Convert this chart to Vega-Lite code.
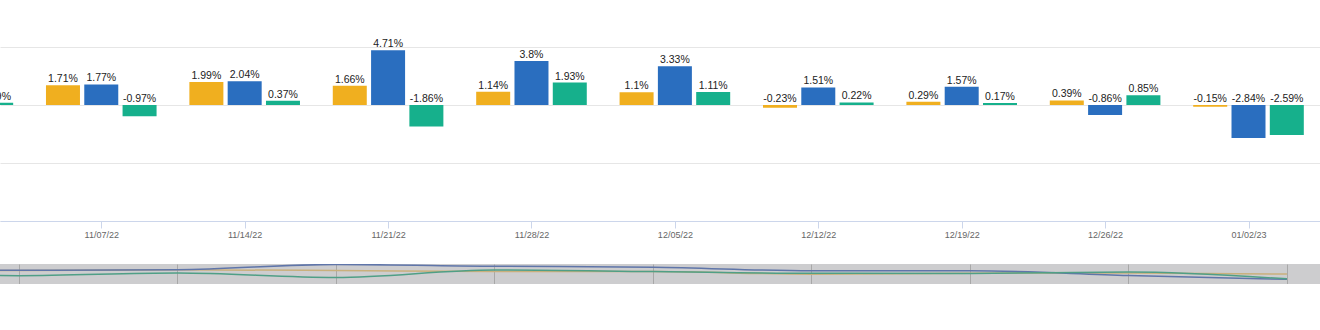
{
  "$schema": "https://vega.github.io/schema/vega-lite/v6.json",
  "padding": 0,
  "background": "white",
  "config": {"view": {"stroke": null}, "font": "Liberation Sans"},
  "datasets": {
    "weekly": [
      {"week": "2022-10-31", "series": "s1", "value": 1.52},
      {"week": "2022-10-31", "series": "s2", "value": 1.64},
      {"week": "2022-10-31", "series": "s3", "value": 0.19},
      {"week": "2022-11-07", "series": "s1", "value": 1.71},
      {"week": "2022-11-07", "series": "s2", "value": 1.77},
      {"week": "2022-11-07", "series": "s3", "value": -0.97},
      {"week": "2022-11-14", "series": "s1", "value": 1.99},
      {"week": "2022-11-14", "series": "s2", "value": 2.04},
      {"week": "2022-11-14", "series": "s3", "value": 0.37},
      {"week": "2022-11-21", "series": "s1", "value": 1.66},
      {"week": "2022-11-21", "series": "s2", "value": 4.71},
      {"week": "2022-11-21", "series": "s3", "value": -1.86},
      {"week": "2022-11-28", "series": "s1", "value": 1.14},
      {"week": "2022-11-28", "series": "s2", "value": 3.8},
      {"week": "2022-11-28", "series": "s3", "value": 1.93},
      {"week": "2022-12-05", "series": "s1", "value": 1.1},
      {"week": "2022-12-05", "series": "s2", "value": 3.33},
      {"week": "2022-12-05", "series": "s3", "value": 1.11},
      {"week": "2022-12-12", "series": "s1", "value": -0.23},
      {"week": "2022-12-12", "series": "s2", "value": 1.51},
      {"week": "2022-12-12", "series": "s3", "value": 0.22},
      {"week": "2022-12-19", "series": "s1", "value": 0.29},
      {"week": "2022-12-19", "series": "s2", "value": 1.57},
      {"week": "2022-12-19", "series": "s3", "value": 0.17},
      {"week": "2022-12-26", "series": "s1", "value": 0.39},
      {"week": "2022-12-26", "series": "s2", "value": -0.86},
      {"week": "2022-12-26", "series": "s3", "value": 0.85},
      {"week": "2023-01-02", "series": "s1", "value": -0.15},
      {"week": "2023-01-02", "series": "s2", "value": -2.84},
      {"week": "2023-01-02", "series": "s3", "value": -2.59}
    ]
  },
  "data": {"name": "weekly"},
  "bounds": "flush",
  "spacing": 43,
  "vconcat": [
    {
      "width": 1320,
      "height": 221,
      "transform": [{"calculate": "datum.value + '%'", "as": "label"}],
      "encoding": {
        "x": {
          "field": "week",
          "type": "temporal",
          "scale": {
            "type": "utc",
            "domain": [
              {"year": 2022, "month": 11, "date": 2, "hours": 7, "minutes": 13, "utc": true},
              {"year": 2023, "month": 1, "date": 5, "hours": 5, "minutes": 54, "utc": true}
            ]
          },
          "axis": {
            "title": null,
            "values": [
              {"year": 2022, "month": 11, "date": 7, "utc": true},
              {"year": 2022, "month": 11, "date": 14, "utc": true},
              {"year": 2022, "month": 11, "date": 21, "utc": true},
              {"year": 2022, "month": 11, "date": 28, "utc": true},
              {"year": 2022, "month": 12, "date": 5, "utc": true},
              {"year": 2022, "month": 12, "date": 12, "utc": true},
              {"year": 2022, "month": 12, "date": 19, "utc": true},
              {"year": 2022, "month": 12, "date": 26, "utc": true},
              {"year": 2023, "month": 1, "date": 2, "utc": true}
            ],
            "labelExpr": "utcFormat(datum.value, '%m/%d/%y')",
            "grid": false,
            "labelColor": "#666666",
            "labelFontSize": 9,
            "labelFont": "Liberation Sans",
            "labelPadding": 2,
            "domainColor": "#ccd6eb",
            "tickColor": "#ccd6eb",
            "tickSize": 7
          }
        },
        "y": {
          "field": "value",
          "type": "quantitative",
          "scale": {"domain": [-10, 9.05], "nice": false, "zero": false},
          "axis": {
            "title": null,
            "labels": false,
            "ticks": false,
            "domain": false,
            "grid": true,
            "gridColor": "#e6e6e6",
            "values": [-10, -5, 0, 5]
          }
        }
      },
      "layer": [
        {"transform": [{"filter": "datum.series == 's1'"}], "mark": {"type": "bar", "width": 34, "xOffset": -38.3, "color": "#F0AF1F", "clip": true}},
        {"transform": [{"filter": "datum.series == 's2'"}], "mark": {"type": "bar", "width": 34, "xOffset": 0, "color": "#2A6EBF", "clip": true}},
        {"transform": [{"filter": "datum.series == 's3'"}], "mark": {"type": "bar", "width": 34, "xOffset": 38.3, "color": "#16B08C", "clip": true}},
        {"transform": [{"filter": "datum.series == 's1' && datum.value >= 0"}], "mark": {"type": "text", "xOffset": -38.3, "dy": -3, "baseline": "alphabetic", "fontSize": 10.5, "color": "#222222", "clip": true}, "encoding": {"text": {"field": "label"}}},
        {"transform": [{"filter": "datum.series == 's2' && datum.value >= 0"}], "mark": {"type": "text", "xOffset": 0, "dy": -3, "baseline": "alphabetic", "fontSize": 10.5, "color": "#222222", "clip": true}, "encoding": {"text": {"field": "label"}}},
        {"transform": [{"filter": "datum.series == 's3' && datum.value >= 0"}], "mark": {"type": "text", "xOffset": 38.3, "dy": -3, "baseline": "alphabetic", "fontSize": 10.5, "color": "#222222", "clip": true}, "encoding": {"text": {"field": "label"}}},
        {"transform": [{"filter": "datum.series == 's1' && datum.value < 0"}], "mark": {"type": "text", "xOffset": -38.3, "dy": -3, "baseline": "alphabetic", "fontSize": 10.5, "color": "#222222", "clip": true}, "encoding": {"text": {"field": "label"}, "y": {"datum": 0}}},
        {"transform": [{"filter": "datum.series == 's2' && datum.value < 0"}], "mark": {"type": "text", "xOffset": 0, "dy": -3, "baseline": "alphabetic", "fontSize": 10.5, "color": "#222222", "clip": true}, "encoding": {"text": {"field": "label"}, "y": {"datum": 0}}},
        {"transform": [{"filter": "datum.series == 's3' && datum.value < 0"}], "mark": {"type": "text", "xOffset": 38.3, "dy": -3, "baseline": "alphabetic", "fontSize": 10.5, "color": "#222222", "clip": true}, "encoding": {"text": {"field": "label"}, "y": {"datum": 0}}}
      ]
    },
    {
      "width": 1320,
      "height": 20,
      "view": {"fill": "#cdcdcf", "stroke": null},
      "encoding": {
        "x": {
          "field": "week",
          "type": "temporal",
          "scale": {
            "type": "utc",
            "domain": [
              {"year": 2022, "month": 11, "date": 6, "hours": 3, "minutes": 53, "utc": true},
              {"year": 2023, "month": 1, "date": 3, "hours": 11, "minutes": 2, "utc": true}
            ]
          },
          "axis": {
            "title": null,
            "labels": false,
            "ticks": false,
            "domain": false,
            "grid": true,
            "gridColor": "#a8a8a8",
            "values": [
              {"year": 2022, "month": 11, "date": 7, "utc": true},
              {"year": 2022, "month": 11, "date": 14, "utc": true},
              {"year": 2022, "month": 11, "date": 21, "utc": true},
              {"year": 2022, "month": 11, "date": 28, "utc": true},
              {"year": 2022, "month": 12, "date": 5, "utc": true},
              {"year": 2022, "month": 12, "date": 12, "utc": true},
              {"year": 2022, "month": 12, "date": 19, "utc": true},
              {"year": 2022, "month": 12, "date": 26, "utc": true},
              {"year": 2023, "month": 1, "date": 2, "utc": true}
            ]
          }
        },
        "y": {
          "field": "value",
          "type": "quantitative",
          "scale": {"domain": [-5.2, 4.95], "nice": false, "zero": false},
          "axis": null
        }
      },
      "layer": [
        {
          "mark": {"type": "line", "interpolate": "monotone", "clip": true, "strokeWidth": 1.5},
          "encoding": {
            "color": {
              "field": "series",
              "type": "nominal",
              "scale": {"domain": ["s1", "s2", "s3"], "range": ["#c9b07c", "#5f75a9", "#4f9f86"]},
              "legend": null
            }
          }
        }
      ]
    }
  ]
}
